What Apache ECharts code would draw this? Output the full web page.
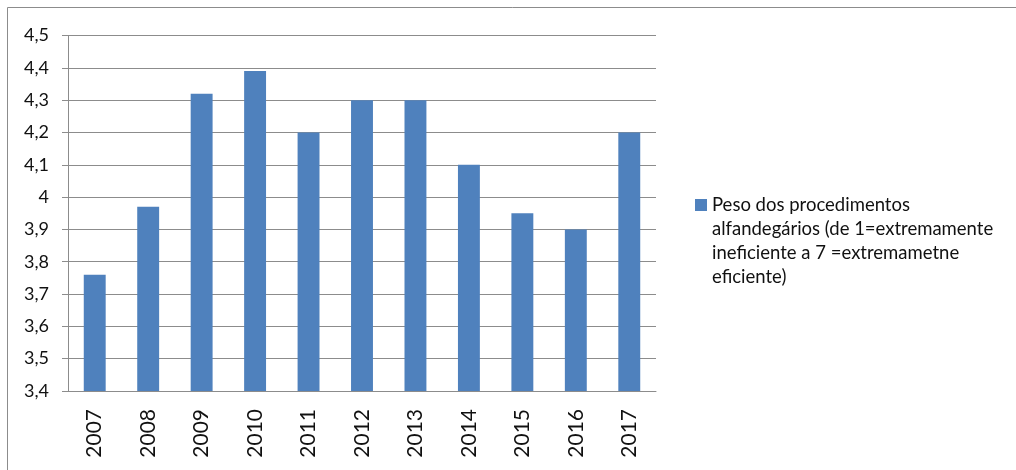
<!DOCTYPE html>
<html>
<head>
<meta charset="utf-8">
<script src="https://cdn.jsdelivr.net/npm/echarts@6/dist/echarts.min.js"></script>
<style>
  html, body { margin: 0; padding: 0; background: #fff; }
  #chart { width: 1016px; height: 470px; }
</style>
</head>
<body>
<div id="chart"></div>
<script>
  // dados
  var anos = ['2007', '2008', '2009', '2010', '2011', '2012', '2013', '2014', '2015', '2016', '2017'];
  var valores = [3.76, 3.97, 4.32, 4.39, 4.2, 4.3, 4.3, 4.1, 3.95, 3.9, 4.2];
  var nomeSerie = 'Peso dos procedimentos alfandegários (de 1=extremamente ineficiente a 7 =extremametne eficiente)';
  var legendaLinhas = ['Peso dos procedimentos', 'alfandegários (de 1=extremamente', 'ineficiente a 7 =extremametne', 'eficiente)'];

  var myChart = echarts.init(document.getElementById('chart'));
  var fonte = 'Lato, "Open Sans", sans-serif';

  var options = {
    animation: false,
    textStyle: { fontFamily: fonte },
    graphic: [{
      type: 'rect',
      shape: { x: 7.5, y: 7.5, width: 1200, height: 700 },
      style: { fill: 'none', stroke: '#8c8c8c', lineWidth: 1 },
      silent: true
    }],
    grid: { left: 68, right: 360, top: 35.5, bottom: 79 },
    legend: {
      left: 695,
      top: 193,
      padding: 0,
      itemWidth: 12,
      itemHeight: 96,
      icon: 'path://M0,0L0,0M0,6H12V18H0ZM12,96L12,96',
      data: [nomeSerie],
      formatter: function () { return legendaLinhas.join('\n'); },
      textStyle: { fontFamily: fonte, fontSize: 18.5, lineHeight: 24, color: '#111' }
    },
    xAxis: {
      type: 'category',
      data: anos,
      axisLine: { lineStyle: { color: '#8c8c8c' } },
      axisTick: { length: 7, lineStyle: { color: '#8c8c8c' } },
      axisLabel: { rotate: 90, margin: 18, fontSize: 21, color: '#111', fontFamily: fonte }
    },
    yAxis: {
      type: 'value',
      min: 3.4,
      max: 4.5,
      interval: 0.1,
      axisLine: { show: true, lineStyle: { color: '#8c8c8c' } },
      axisTick: { show: true, length: 6, lineStyle: { color: '#8c8c8c' } },
      splitLine: { lineStyle: { color: '#8c8c8c' } },
      axisLabel: {
        margin: 19, fontSize: 18, color: '#111', fontFamily: fonte,
        formatter: function (v) { return String(Math.round(v * 10) / 10).replace('.', ','); }
      }
    },
    series: [{
      name: nomeSerie,
      type: 'bar',
      data: valores,
      barCategoryGap: '59%',
      itemStyle: { color: '#4F81BD' }
    }]
  };

  myChart.setOption(options, true);
</script>
</body>
</html>
